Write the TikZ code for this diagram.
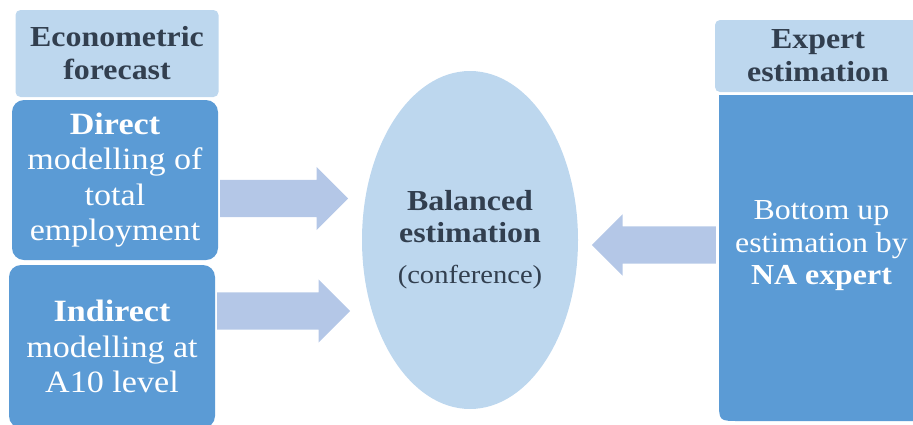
\documentclass[tikz,border=0pt]{standalone}
\usepackage{fontspec}
\setmainfont{Liberation Serif}[FakeStretch=1.1]
\usetikzlibrary{positioning,shapes,shapes.geometric,shapes.arrows}
\definecolor{headFill}{HTML}{BDD7EE}
\definecolor{boxFill}{HTML}{5B9BD5}
\definecolor{arrowFill}{HTML}{B4C7E7}
\definecolor{headText}{HTML}{323F4F}

\begin{document}
\begin{tikzpicture}
      [x=1pt, y=-1pt,
      % STYLES
      every node/.style={inner sep=0pt, align=center},
      % The header style is used for the light titles above the blue boxes
      header/.style={rectangle, fill=headFill, rounded corners=5pt, text=headText, font=\bfseries\fontsize{29}{33}\selectfont, minimum width=203pt, minimum height=87pt},
      % The method style is used for the blue boxes with white text
      method/.style={rectangle, fill=boxFill, rounded corners=12pt, text=white, font=\fontsize{31}{35.5}\selectfont, minimum width=206pt, minimum height=160pt},
      % The flow style draws the wide block arrows
      flow/.style={single arrow, anchor=tail, fill=arrowFill, single arrow head extend=13pt, inner xsep=0pt, inner ysep=18.5pt, minimum height=128pt}]

      \useasboundingbox (0,0) rectangle (913,424);

      % Econometric side
      \node [header] (econHeader) at (117,53.5) {Econometric\\forecast};
      \node [method] (directBox) at (115,180) {\textbf{Direct}\\modelling of\\total\\employment};
      \node [method, minimum height=163pt] (indirectBox) at (112,346.5) {\textbf{Indirect}\\modelling at\\A10 level};

      %%%%%%%%%%%%%%%
      % Balanced estimation
      \node [ellipse, fill=headFill, text=headText, minimum width=216pt, minimum height=338pt, font=\fontsize{29}{32}\selectfont] (balanced) at (470,240) {
        \textbf{Balanced}\\\textbf{estimation}\\[9pt]{\fontsize{26}{30}\selectfont(conference)}
      };

      %%%%%%%%%%%%%%%
      % Expert side
      \node [header, minimum width=206pt, minimum height=72pt] (expertHeader) at (818,56) {Expert\\estimation};
      \fill [boxFill] (719,95) -- (924,95) -- (924,421) -- (739,421) .. controls (719,421) .. (719,401) -- cycle;
      \node [text=white, font=\fontsize{29}{32.5}\selectfont] (expertText) at (821.5,246) {Bottom up\\estimation by\\\textbf{NA expert}};

      %%%%%%%%%%%%%%%%

      % Draw the block arrows towards the balanced estimation
      \node [flow] (directArrow) at (220,198.5) {};
      \node [flow, minimum height=133pt] (indirectArrow) at (217,311) {};
      \node [flow, shape border rotate=180, minimum height=124pt, single arrow head extend=12pt] (expertArrow) at (716,245) {};

    \end{tikzpicture}
\end{document}
